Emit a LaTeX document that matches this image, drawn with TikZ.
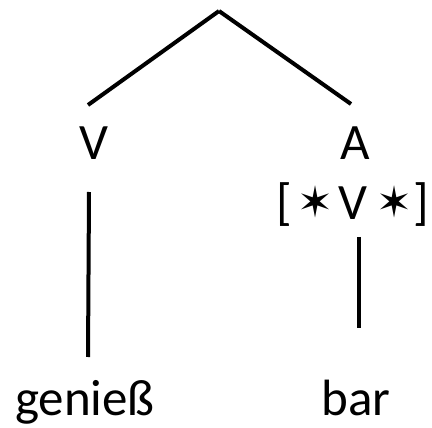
\documentclass[tikz,border=0pt]{standalone}
\usepackage{fontspec}
\setmainfont{Carlito}
\newfontfamily\symfont{DejaVu Sans}
\newcommand{\featstar}{\raisebox{2pt}{\symfont\fontsize{43}{48}\selectfont ✶}}
\newcommand{\putat}[2]{\rlap{\hspace{#1}\makebox[0pt]{#2}}}
\usetikzlibrary{calc, positioning}

\begin{document}
\begin{tikzpicture}[
    x=1pt, y=-1pt,
    every node/.style={inner sep=0pt, anchor=base, font=\fontsize{51}{60}\selectfont},
    branch/.style={line width=4pt}
]
\useasboundingbox (0,0) rectangle (432,428);

% Nodes
\coordinate (root) at (219,11);
\node (V) at (94,160) {V};
\node (A) at (355,160) {A};
\node (feat) at (352.5,220) {\putat{-68pt}{[}\putat{-37pt}{\featstar}\putat{0pt}{V}\putat{42pt}{\featstar}\putat{69pt}{]}};
\node (gen) at (85,415) {genieß};
\node (bar) at (356,415) {bar};

% Lines
\draw[branch] (root) -- ($(V.base)+(-6,-55)$);
\draw[branch] (root) -- ($(A.base)+(-4,-56)$);
\draw[branch] ($(V.base)+(-5,32)$) -- ($(gen.base)+(3,-58)$);
\draw[branch] ($(feat.base)+(6.5,17)$) -- ($(bar.base)+(3,-87)$);

\end{tikzpicture}
\end{document}
